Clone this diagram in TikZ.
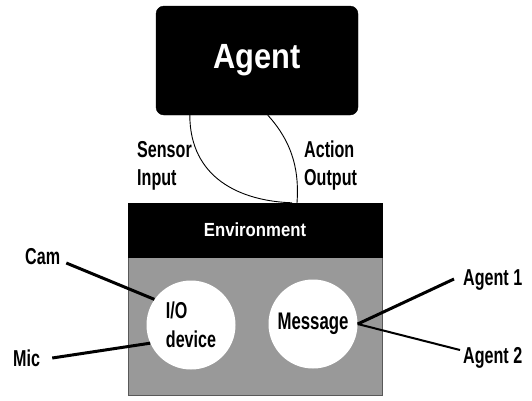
\documentclass[tikz,border=0pt]{standalone}
\usepackage{fontspec}
\setmainfont{Liberation Sans}[FakeStretch=0.88]
\newfontfamily\narrowfont{Liberation Sans}[FakeStretch=0.7]
\usetikzlibrary{calc}
\begin{document}
\begin{tikzpicture}[x=1pt,y=-1pt,
  lbl/.style={font=\narrowfont\fontsize{23}{28}\selectfont\bfseries, inner sep=0pt, align=left},
  blackbox/.style={fill=black, draw=black, text=white, inner sep=0pt},
  disc/.style={circle, fill=white, inner sep=0pt, minimum size=89pt, font=\narrowfont\fontsize{23}{29}\selectfont\bfseries, align=left},
  thickline/.style={line width=3pt},
  thinline/.style={line width=0.9pt}]
\useasboundingbox (0,0) rectangle (532,400);
\node[blackbox, rounded corners=8pt, minimum width=202pt, minimum height=109pt,
  font=\fontsize{35}{35}\selectfont\bfseries] (agent) at (257,60.5) {Agent};
\node[fill=black!40, draw=black!65, line width=0.8pt, minimum width=254pt, minimum height=138pt, inner sep=0pt] (envbody) at (255,326) {};
\node[blackbox, minimum width=254pt, minimum height=54pt,
  font=\fontsize{19}{19}\selectfont\bfseries] (envhead) at (255,230) {Environment};
\node[disc] (io) at (191,325) {I/O\\device};
\node[disc, font=\narrowfont\fontsize{24}{24}\selectfont\bfseries] (msg) at (313,324) {Message};
\node[lbl, anchor=base west] (sensor) at (137,185) {Sensor\\Input};
\node[lbl, anchor=base west] (action) at (304,185) {Action\\Output};
\node[lbl, anchor=base west] (cam) at (25,264) {Cam};
\node[lbl, anchor=base west] (mic) at (13,366) {Mic};
\node[lbl, anchor=base west] (a1) at (463,285) {Agent 1};
\node[lbl, anchor=base west] (a2) at (463,363) {Agent 2};
\coordinate (sL) at ($(agent.south west)+(34,0)$);
\coordinate (sR) at ($(agent.south west)+(112,0)$);
\coordinate (eL) at ($(envhead.north)+(37,0)$);
\coordinate (eR) at ($(envhead.north)+(42,0)$);
\draw[thinline] (sL) .. controls (190,178) and (240,201) .. (eL);
\draw[thinline] (sR) .. controls (295,145) and (299,175) .. (eR);
\draw[thickline] ($(cam.base east)+(6,-1)$) -- (io.145);
\draw[thickline] ($(mic.base east)+(12,-8)$) -- (io.204);
\draw[thickline] ($(a1.base west)+(-9,-6)$) -- (msg.0);
\draw[line width=2pt] ($(a2.base west)+(-3,-13)$) -- (msg.0);
\end{tikzpicture}
\end{document}
